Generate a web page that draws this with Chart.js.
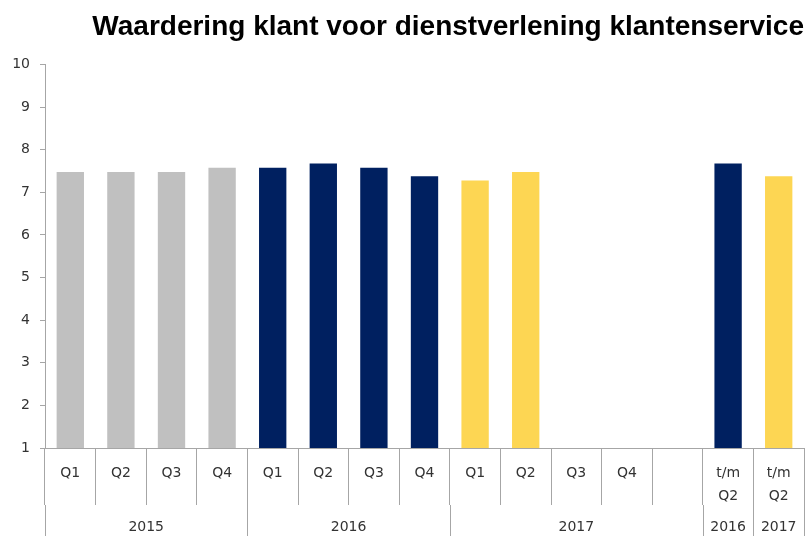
<!DOCTYPE html>
<html lang="nl">
<head>
  <meta charset="UTF-8">
  <title>Waardering klant voor dienstverlening klantenservice</title>
  <style>
    body, html {
      margin: 0;
      padding: 0;
      background: #fff;
    }
    .chart-box {
      width: 809px;
      height: 536px;
    }
  </style>
</head>
<body>
  <div class="chart-box">
    <canvas id="scoreChart"></canvas>
  </div>

  <script src="https://cdn.jsdelivr.net/npm/chart.js"></script>
  <script>
    // data
    var quarterLabels = ['Q1', 'Q2', 'Q3', 'Q4', 'Q1', 'Q2', 'Q3', 'Q4', 'Q1', 'Q2', 'Q3', 'Q4', '', ['t/m', 'Q2'], ['t/m', 'Q2']];
    var periodGroup = ['2015', '2015', '2015', '2015', '2016', '2016', '2016', '2016', '2017', '2017', '2017', '2017', '2017', '2016', '2017'];
    var scores = [7.5, 7.5, 7.5, 7.6, 7.6, 7.7, 7.6, 7.4, 7.3, 7.5, null, null, null, 7.7, 7.4];
    var yearLabels = ['2015', '2016', '2017', '2016', '2017'];
    var yearStart = [0, 4, 8, 13, 14];   // first slot of each year block
    var yearEnd = [4, 8, 13, 14, 15];

    var yearColor = { '2015': '#c0c0c0', '2016': '#002060', '2017': '#fdd653' };
    var barColors = periodGroup.map(function (y) { return yearColor[y]; });

    var lineGray = '#a6a6a6';

    // tweede labelrij (jaren) met lange scheidingslijnen
    var yearRow = {
      id: 'yearRow',
      afterDraw: function (chart) {
        var x = chart.scales.x;
        var ctx = chart.ctx;
        var tickBottom = x.top + 57;
        ctx.save();
        ctx.strokeStyle = lineGray;
        ctx.lineWidth = 1;
        var edges = yearStart.concat([15]);
        edges.forEach(function (e) {
          var px = Math.round(x.getPixelForValue(e - 0.5)) + 0.5;
          ctx.beginPath();
          ctx.moveTo(px, tickBottom);
          ctx.lineTo(px, chart.height);
          ctx.stroke();
        });
        ctx.fillStyle = '#333';
        ctx.font = '14px "DejaVu Sans"';
        ctx.textAlign = 'center';
        ctx.textBaseline = 'middle';
        yearLabels.forEach(function (lbl, i) {
          var mid = (yearStart[i] + yearEnd[i] - 1) / 2;
          ctx.fillText(lbl, x.getPixelForValue(mid), 527);
        });
        ctx.restore();
      }
    };

    var ctx = document.getElementById('scoreChart').getContext('2d');
    var scoreChart = new Chart(ctx, {
      type: 'bar',
      data: {
        labels: quarterLabels,
        datasets: [{
          data: scores,
          backgroundColor: barColors,
          borderColor: 'rgba(255,255,255,0.35)',
          borderWidth: 1,
          categoryPercentage: 1,
          barPercentage: 0.58
        }]
      },
      options: {
        responsive: true,
        maintainAspectRatio: false,
        animation: false,
        layout: { padding: { left: 0, right: 5, top: 0, bottom: 0 } },
        plugins: {
          legend: { display: false },
          tooltip: { enabled: false },
          title: {
            display: true,
            text: 'Waardering klant voor dienstverlening klantenservice',
            align: 'end',
            color: '#000',
            font: { family: '"Liberation Sans"', size: 28, weight: 'bold' },
            padding: { top: 10, bottom: 21 }
          }
        },
        scales: {
          x: {
            grid: {
              offset: true,
              drawOnChartArea: false,
              drawTicks: true,
              tickLength: 57,
              color: lineGray
            },
            border: { color: lineGray },
            ticks: {
              color: '#333',
              font: { family: '"DejaVu Sans"', size: 14, lineHeight: 1.7 },
              padding: -44,
              maxRotation: 0,
              autoSkip: false
            },
            afterFit: function (s) { s.height = 88; }
          },
          y: {
            min: 1,
            max: 10,
            grid: {
              drawOnChartArea: false,
              drawTicks: true,
              tickLength: 5,
              color: lineGray
            },
            border: { color: lineGray },
            ticks: {
              stepSize: 1,
              color: '#333',
              font: { family: '"DejaVu Sans"', size: 14 },
              padding: 10
            },
            afterFit: function (s) { s.width = 45; }
          }
        }
      },
      plugins: [yearRow]
    });
  </script>
</body>
</html>
